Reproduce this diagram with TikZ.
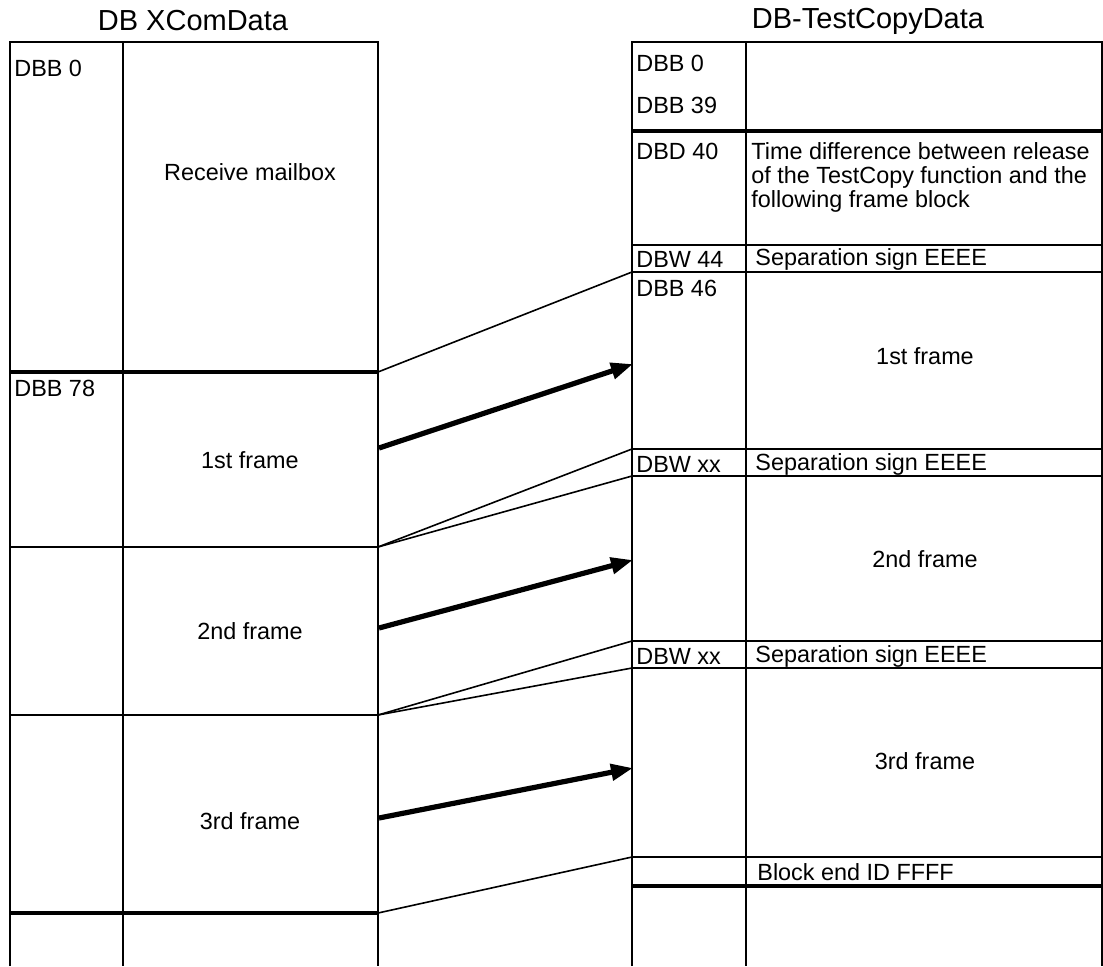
\documentclass[tikz,border=0pt]{standalone}
\usepackage{fontspec}
\setmainfont{Liberation Sans}
\usetikzlibrary{arrows.meta}

\begin{document}
\begin{tikzpicture}[
    x=0.5pt, y=-0.5pt,
    gridline/.style={line width=1pt},
    heavyline/.style={line width=1.8pt},
    link/.style={line width=0.8pt},
    arrow/.style={-{Triangle[length=11pt, width=8pt]}, line width=2.6pt},
    title/.style={inner sep=0pt, font=\fontsize{14.5}{17}\selectfont},
    addr/.style={anchor=west, inner sep=0pt, font=\fontsize{11.7}{12}\selectfont},
    content/.style={inner sep=0pt, font=\fontsize{11.7}{12}\selectfont, align=left}
  ]
    \useasboundingbox (0,0) rectangle (1103,966);

    % left block: DB XComData
    \node[title] (ltitle) at (193,21) {DB XComData};
    \draw[gridline] (10,966) -- (10,42) -- (378,42) -- (378,966);
    \draw[gridline] (123,42) -- (123,966);
    \draw[heavyline] (10,372) -- (378,372);
    \draw[gridline] (10,547) -- (378,547);
    \draw[gridline] (10,715) -- (378,715);
    \draw[heavyline] (10,913) -- (378,913);

    \node[addr] (ldbb0) at (14,68) {DBB 0};
    \node[content] (recv) at (250,172) {Receive mailbox};
    \node[addr] (ldbb78) at (14,388) {DBB 78};
    \node[content] (lframe1) at (250,460) {1st frame};
    \node[content] (lframe2) at (250,631) {2nd frame};
    \node[content] (lframe3) at (250,821) {3rd frame};

    % right block: DB-TestCopyData
    \node[title] (rtitle) at (868,21) {DB-TestCopyData};
    \draw[gridline] (632,966) -- (632,42) -- (1102,42) -- (1102,966);
    \draw[gridline] (746,42) -- (746,966);
    \draw[heavyline] (632,131) -- (1102,131);
    \draw[gridline] (632,245) -- (1102,245);
    \draw[gridline] (632,272) -- (1102,272);
    \draw[gridline] (632,449) -- (1102,449);
    \draw[gridline] (632,476) -- (1102,476);
    \draw[gridline] (632,641) -- (1102,641);
    \draw[gridline] (632,668) -- (1102,668);
    \draw[line width=1.3pt] (632,857) -- (1102,857);
    \draw[heavyline] (632,886) -- (1102,886);

    \node[addr] (rdbb0) at (636,63) {DBB 0};
    \node[addr] (rdbb39) at (636,105) {DBB 39};
    \node[addr] (rdbd40) at (636,151) {DBD 40};
    \node[content, anchor=north west] (timediff) at (751,142)
      {Time difference between release\\of the TestCopy function and the\\following frame block};
    \node[addr] (rdbw44) at (636,259) {DBW 44};
    \node[addr] (sep1) at (755,259) {Separation sign EEEE};
    \node[addr] (rdbb46) at (636,288) {DBB 46};
    \node[content] (rframe1) at (925,356) {1st frame};
    \node[addr] (rdbwa) at (636,464) {DBW xx};
    \node[addr] (sep2) at (755,464) {Separation sign EEEE};
    \node[content] (rframe2) at (925,559) {2nd frame};
    \node[addr] (rdbwb) at (636,656) {DBW xx};
    \node[addr] (sep3) at (755,656) {Separation sign EEEE};
    \node[content] (rframe3) at (925,761) {3rd frame};
    \node[addr] (blockend) at (757,872) {Block end ID FFFF};

    % row boundaries
    \coordinate (lrecv) at (378,372);
    \coordinate (lf1) at (378,547);
    \coordinate (lf2) at (378,715);
    \coordinate (lf3) at (378,913);
    \coordinate (rsep1) at (632,272);
    \coordinate (rsep2a) at (632,449);
    \coordinate (rsep2b) at (632,476);
    \coordinate (rsep3a) at (632,641);
    \coordinate (rsep3b) at (632,668);
    \coordinate (rend) at (632,857);
    \coordinate (a1s) at (379,448);
    \coordinate (a1e) at (633,364);
    \coordinate (a2s) at (379,628);
    \coordinate (a2e) at (633,560);
    \coordinate (a3s) at (379,818);
    \coordinate (a3e) at (633,768);

    \draw[link] (lrecv) -- (rsep1);
    \draw[link] (lf1) -- (rsep2a);
    \draw[link] (lf1) -- (rsep2b);
    \draw[link] (lf2) -- (rsep3a);
    \draw[link] (lf2) -- (rsep3b);
    \draw[link] (lf3) -- (rend);
    \draw[arrow] (a1s) -- (a1e);
    \draw[arrow] (a2s) -- (a2e);
    \draw[arrow] (a3s) -- (a3e);
  \end{tikzpicture}
\end{document}
